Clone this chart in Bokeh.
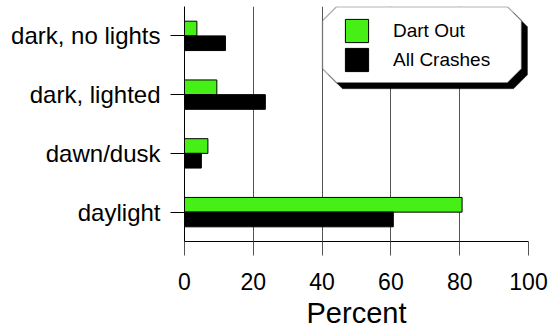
from bokeh.plotting import figure
from bokeh.models import (FactorRange, Range1d, PolyAnnotation, Legend, LegendItem,
                          FixedTicker, ColumnDataSource)
from bokeh.transform import dodge
from bokeh.embed import file_html
from bokeh.resources import INLINE

# ---- data ----
categories = ["dark, no lights", "dark, lighted", "dawn/dusk", "daylight"]
dart_out = [3.6, 9.4, 6.8, 80.7]
all_crashes = [11.9, 23.5, 4.9, 60.7]
series_names = ["Dart Out", "All Crashes"]
x_ticks = [0, 20, 40, 60, 80, 100]
x_label = "Percent"

GREEN = "#46F016"
FONT = "Liberation Sans"

source = ColumnDataSource(data=dict(cat=categories, dart=dart_out, crashes=all_crashes))

p = figure(width=550, height=331,
           x_range=Range1d(0, 100),
           y_range=FactorRange(*list(reversed(categories))),
           output_backend="svg", toolbar_location=None,
           min_border_left=184, min_border_right=22,
           min_border_top=6, min_border_bottom=90)
p.outline_line_color = None
p.background_fill_color = "white"

g = p.hbar(y=dodge("cat", 0.125, range=p.y_range), left=0, right="dart", height=0.25,
           source=source, fill_color=GREEN, line_color="black", line_width=1)
b = p.hbar(y=dodge("cat", -0.125, range=p.y_range), left=0, right="crashes", height=0.25,
           source=source, fill_color="black", line_color="black", line_width=1)

# grid
p.ygrid.visible = False
p.xgrid.ticker = FixedTicker(ticks=x_ticks)
p.xgrid.grid_line_color = "#555555"
p.xgrid.grid_line_width = 1

# x axis
xa = p.xaxis[0]
xa.ticker = FixedTicker(ticks=x_ticks)
xa.axis_label = x_label
xa.axis_label_text_font = FONT
xa.axis_label_text_font_size = "29px"
xa.axis_label_text_font_style = "normal"
xa.axis_label_text_color = "black"
xa.axis_label_standoff = 4
xa.major_label_text_font = FONT
xa.major_label_text_font_size = "23px"
xa.major_label_text_color = "black"
xa.major_label_standoff = 17
xa.major_tick_out = 14
xa.major_tick_in = 0
xa.minor_tick_out = 0
xa.minor_tick_in = 0
xa.major_tick_line_color = "#555555"
xa.axis_line_color = "black"

# y axis
ya = p.yaxis[0]
ya.major_label_text_font = FONT
ya.major_label_text_font_size = "24px"
ya.major_label_text_color = "black"
ya.major_label_standoff = 10
ya.major_tick_out = 14
ya.major_tick_in = 0
ya.major_tick_line_color = "black"
ya.axis_line_color = "black"

# octagonal legend frame with shadow (screen units, relative to frame bottom-left)
L, R, T, B, c = 138.0, 337.0, 234.7, 158.7, 14.0
oct_x = [L + c, R - c, R, R, R - c, L + c, L, L]
oct_y = [T, T, T - c, B + c, B, B, B + c, T - c]
sh = 6.0
shadow = PolyAnnotation(xs=[v + sh for v in oct_x], ys=[v - sh for v in oct_y],
                        xs_units="screen", ys_units="screen",
                        fill_color="black", fill_alpha=1.0, line_color="black", line_width=1)
box = PolyAnnotation(xs=oct_x, ys=oct_y, xs_units="screen", ys_units="screen",
                     fill_color="white", fill_alpha=1.0, line_color="black", line_width=1.5)
p.add_layout(shadow)
p.add_layout(box)

legend = Legend(items=[LegendItem(label=series_names[0], renderers=[g]),
                       LegendItem(label=series_names[1], renderers=[b])],
                location=(158, 167), orientation="vertical",
                glyph_width=29, glyph_height=29, spacing=0, label_standoff=22,
                label_text_font=FONT, label_text_font_size="19px", label_text_color="black",
                padding=0, margin=0, border_line_color=None, background_fill_alpha=0)
p.add_layout(legend)

open("out.html", "w").write(file_html(p, INLINE))
